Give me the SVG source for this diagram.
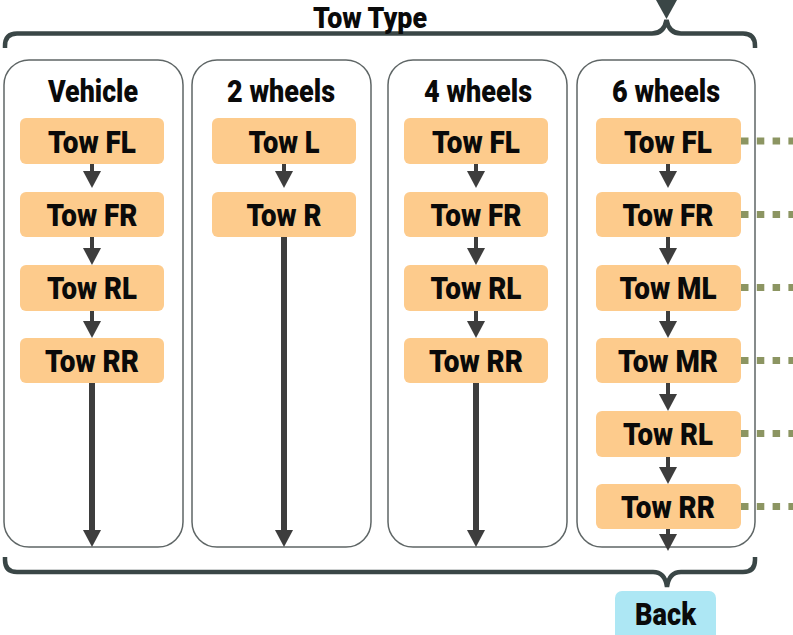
<svg xmlns="http://www.w3.org/2000/svg" width="793" height="635" viewBox="0 0 793 635">
<style>
.col{fill:#ffffff;stroke:#5f6666;stroke-width:1.5}
.node{fill:#fdcb8c}
.back{fill:#ade7f4}
.t{font-family:Roboto,"Liberation Sans",sans-serif;font-weight:900;font-size:31px;fill:#0a0a0a;text-anchor:middle}
.brace{fill:none;stroke:#3a4646;stroke-width:4.5;stroke-linecap:butt}
.arr{stroke:#3d3d3d;stroke-width:4;fill:none}
.arrl{stroke:#3d3d3d;stroke-width:6;fill:none}
.dot{stroke:#8c9562;stroke-width:7;stroke-dasharray:7.5 8.3;fill:none}
</style>
<defs>
<marker id="ah" viewBox="0 0 17 18" refX="0" refY="9" markerWidth="17" markerHeight="18" markerUnits="userSpaceOnUse" orient="auto">
<path d="M0,0 L17,9 L0,18 Z" fill="#3d3d3d"/>
</marker>
</defs>
<rect width="793" height="635" fill="#ffffff"/>

<g id="brace-top">
<path class="brace" d="M5,48 L5,46 Q5,33.5 17,33.5 L652,33.5 Q664,33.5 666.5,20 Q669,33.5 681,33.5 L743,33.5 Q755,33.5 755,46 L755,48"/>
<polygon points="656,0 677,0 666.5,19" fill="#3a4646"/>
<text class="t" x="370" y="28" style="font-size:29px" textLength="114" lengthAdjust="spacingAndGlyphs">Tow Type</text>
</g>

<g id="col-vehicle">
<rect class="col" x="4" y="60" width="179" height="487" rx="25"/>
<text class="t" x="93" y="102" textLength="90" lengthAdjust="spacingAndGlyphs">Vehicle</text>
</g>
<g id="col-2wheels">
<rect class="col" x="192" y="60" width="179" height="487" rx="25"/>
<text class="t" x="281" y="102" textLength="108" lengthAdjust="spacingAndGlyphs">2 wheels</text>
</g>
<g id="col-4wheels">
<rect class="col" x="388" y="60" width="179" height="487" rx="25"/>
<text class="t" x="478" y="102" textLength="108" lengthAdjust="spacingAndGlyphs">4 wheels</text>
</g>
<g id="col-6wheels">
<rect class="col" x="577" y="60" width="178" height="487" rx="25"/>
<text class="t" x="666" y="102" textLength="108" lengthAdjust="spacingAndGlyphs">6 wheels</text>
</g>

<g id="connectors">
<line class="arr" x1="92" y1="163" x2="92" y2="171" marker-end="url(#ah)"/>
<line class="arr" x1="92" y1="237" x2="92" y2="248" marker-end="url(#ah)"/>
<line class="arr" x1="92" y1="310" x2="92" y2="321" marker-end="url(#ah)"/>
<line class="arrl" x1="92" y1="383" x2="92" y2="530" marker-end="url(#ah)"/>

<line class="arr" x1="284" y1="163" x2="284" y2="171" marker-end="url(#ah)"/>
<line class="arrl" x1="284" y1="237" x2="284" y2="530" marker-end="url(#ah)"/>

<line class="arr" x1="476" y1="163" x2="476" y2="171" marker-end="url(#ah)"/>
<line class="arr" x1="476" y1="237" x2="476" y2="248" marker-end="url(#ah)"/>
<line class="arr" x1="476" y1="310" x2="476" y2="321" marker-end="url(#ah)"/>
<line class="arrl" x1="476" y1="383" x2="476" y2="530" marker-end="url(#ah)"/>

<line class="arr" x1="668" y1="163" x2="668" y2="171" marker-end="url(#ah)"/>
<line class="arr" x1="668" y1="237" x2="668" y2="248" marker-end="url(#ah)"/>
<line class="arr" x1="668" y1="310" x2="668" y2="321" marker-end="url(#ah)"/>
<line class="arr" x1="668" y1="383" x2="668" y2="394" marker-end="url(#ah)"/>
<line class="arr" x1="668" y1="456" x2="668" y2="467" marker-end="url(#ah)"/>
<line class="arr" x1="668" y1="529" x2="668" y2="534" marker-end="url(#ah)"/>

<line class="dot" x1="741" y1="141" x2="793" y2="141"/>
<line class="dot" x1="741" y1="214.5" x2="793" y2="214.5"/>
<line class="dot" x1="741" y1="287.5" x2="793" y2="287.5"/>
<line class="dot" x1="741" y1="360.5" x2="793" y2="360.5"/>
<line class="dot" x1="741" y1="433.5" x2="793" y2="433.5"/>
<line class="dot" x1="741" y1="506.5" x2="793" y2="506.5"/>
</g>

<g id="v-fl"><rect class="node" x="20" y="118" width="144" height="46" rx="6"/><text class="t" x="92" y="152.5" textLength="88" lengthAdjust="spacingAndGlyphs">Tow FL</text></g>
<g id="v-fr"><rect class="node" x="20" y="192" width="144" height="45" rx="6"/><text class="t" x="92" y="226" textLength="91" lengthAdjust="spacingAndGlyphs">Tow FR</text></g>
<g id="v-rl"><rect class="node" x="20" y="265" width="144" height="46" rx="6"/><text class="t" x="92" y="299" textLength="90" lengthAdjust="spacingAndGlyphs">Tow RL</text></g>
<g id="v-rr"><rect class="node" x="20" y="338" width="144" height="45" rx="6"/><text class="t" x="92" y="372" textLength="94" lengthAdjust="spacingAndGlyphs">Tow RR</text></g>

<g id="w2-l"><rect class="node" x="212" y="118" width="144" height="46" rx="6"/><text class="t" x="284" y="152.5" textLength="71" lengthAdjust="spacingAndGlyphs">Tow L</text></g>
<g id="w2-r"><rect class="node" x="212" y="192" width="144" height="45" rx="6"/><text class="t" x="284" y="226" textLength="75" lengthAdjust="spacingAndGlyphs">Tow R</text></g>

<g id="w4-fl"><rect class="node" x="404" y="118" width="144" height="46" rx="6"/><text class="t" x="476" y="152.5" textLength="88" lengthAdjust="spacingAndGlyphs">Tow FL</text></g>
<g id="w4-fr"><rect class="node" x="404" y="192" width="144" height="45" rx="6"/><text class="t" x="476" y="226" textLength="91" lengthAdjust="spacingAndGlyphs">Tow FR</text></g>
<g id="w4-rl"><rect class="node" x="404" y="265" width="144" height="46" rx="6"/><text class="t" x="476" y="299" textLength="91" lengthAdjust="spacingAndGlyphs">Tow RL</text></g>
<g id="w4-rr"><rect class="node" x="404" y="338" width="144" height="45" rx="6"/><text class="t" x="476" y="372" textLength="94" lengthAdjust="spacingAndGlyphs">Tow RR</text></g>

<g id="w6-fl"><rect class="node" x="596" y="118" width="145" height="46" rx="6"/><text class="t" x="668" y="152.5" textLength="88" lengthAdjust="spacingAndGlyphs">Tow FL</text></g>
<g id="w6-fr"><rect class="node" x="596" y="192" width="145" height="45" rx="6"/><text class="t" x="668" y="226" textLength="91" lengthAdjust="spacingAndGlyphs">Tow FR</text></g>
<g id="w6-ml"><rect class="node" x="596" y="265" width="145" height="46" rx="6"/><text class="t" x="668" y="299" textLength="97" lengthAdjust="spacingAndGlyphs">Tow ML</text></g>
<g id="w6-mr"><rect class="node" x="596" y="338" width="145" height="45" rx="6"/><text class="t" x="668" y="372" textLength="100" lengthAdjust="spacingAndGlyphs">Tow MR</text></g>
<g id="w6-rl"><rect class="node" x="596" y="411" width="145" height="46" rx="6"/><text class="t" x="668" y="445" textLength="90" lengthAdjust="spacingAndGlyphs">Tow RL</text></g>
<g id="w6-rr"><rect class="node" x="596" y="484" width="145" height="45" rx="6"/><text class="t" x="668" y="518" textLength="94" lengthAdjust="spacingAndGlyphs">Tow RR</text></g>

<g id="brace-bottom">
<path class="brace" d="M5,557 L5,560 Q5,572 17,572 L653,572 Q665,572 667,587 Q669,572 681,572 L743,572 Q755,572 755,560 L755,557"/>
</g>

<g id="back"><rect class="back" x="615" y="591" width="101" height="50" rx="7"/><text class="t" x="665.5" y="625" textLength="61" lengthAdjust="spacingAndGlyphs">Back</text></g>
</svg>
